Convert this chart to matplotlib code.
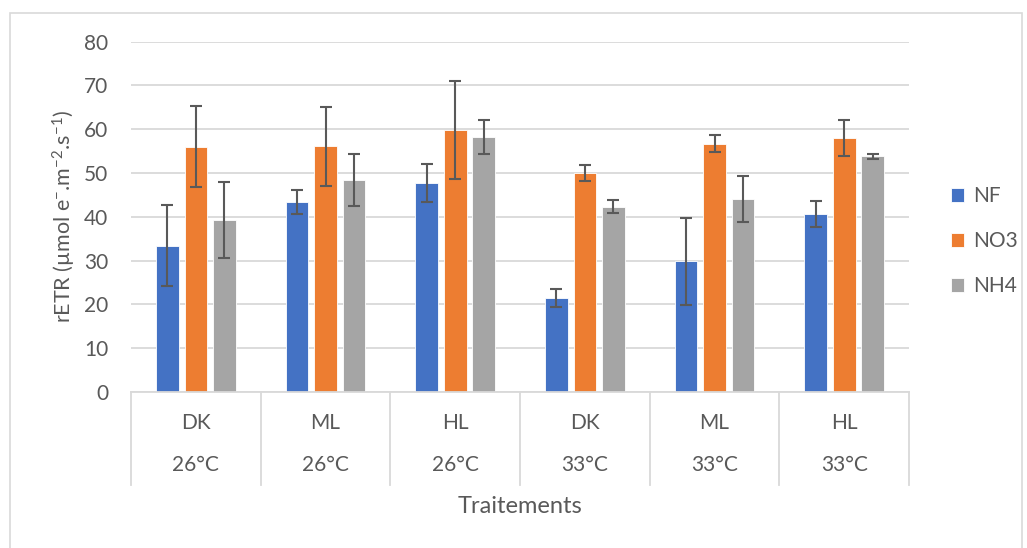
import numpy as np
import matplotlib.pyplot as plt
from matplotlib.patches import Rectangle

plt.rcParams['font.family'] = ['Lato', 'DejaVu Sans']
plt.rcParams['mathtext.fontset'] = 'custom'
plt.rcParams['mathtext.rm'] = 'Lato'
plt.rcParams['mathtext.it'] = 'Lato'

lumiere = ['DK', 'ML', 'HL', 'DK', 'ML', 'HL']
temp = ['26°C', '26°C', '26°C', '33°C', '33°C', '33°C']
series = ['NF', 'NO3', 'NH4']

NF = [33.4, 43.4, 47.7, 21.4, 29.8, 40.7]
NO3 = [56.0, 56.1, 59.8, 50.0, 56.7, 58.0]
NH4 = [39.3, 48.4, 58.2, 42.3, 44.1, 53.8]
NF_E = [9.2, 2.7, 4.4, 2.1, 9.9, 3.0]
NO3_E = [9.3, 9.0, 11.1, 1.9, 1.9, 4.2]
NH4_E = [8.7, 6.0, 3.8, 1.5, 5.3, 0.5]

colors = ['#4472C4', '#ED7D31', '#A5A5A5']
txt = '#595959'
grid = '#D9D9D9'
fs = 15

fig = plt.figure(figsize=(10.27, 5.48), dpi=100)
ax = fig.add_axes([0.1276, 0.2847, 0.7575, 0.6393])

x = np.arange(len(lumiere))
w = 0.175
off = 0.22
for i, (vals, errs) in enumerate([(NF, NF_E), (NO3, NO3_E), (NH4, NH4_E)]):
    ax.bar(x + (i - 1) * off, vals, width=w, color=colors[i], edgecolor='white',
           linewidth=0.6, label=series[i], zorder=2)
    ax.errorbar(x + (i - 1) * off, vals, yerr=errs, fmt='none', ecolor=txt,
                elinewidth=1.5, capsize=4.3, capthick=1.5, zorder=3)

ax.set_xlim(-0.5, 5.5)
ax.set_ylim(0, 80)
ax.set_yticks(np.arange(0, 81, 10))
ax.yaxis.grid(True, color=grid, linewidth=1.3, zorder=0)
ax.set_axisbelow(True)
ax.tick_params(axis='y', length=0, pad=16.5, labelsize=fs, labelcolor=txt)
ax.set_xticks([])
for s in ['top', 'right', 'left']:
    ax.spines[s].set_visible(False)
ax.spines['bottom'].set_color(grid)
ax.spines['bottom'].set_linewidth(1.3)

# category table below the axis
tr = ax.get_xaxis_transform()
for b in np.arange(-0.5, 6, 1):
    ax.plot([b, b], [0, -0.265], transform=tr, color=grid, lw=1.3, clip_on=False)
for i in range(len(lumiere)):
    ax.text(x[i], -0.0885, lumiere[i], transform=tr, ha='center', va='center',
            fontsize=fs, color=txt)
    ax.text(x[i], -0.208, temp[i], transform=tr, ha='center', va='center',
            fontsize=fs, color=txt)
ax.text(2.5, -0.328, 'Traitements', transform=tr, ha='center', va='center',
        fontsize=17, color=txt)

ax.set_ylabel(r'rETR (µmol e$^{-}$.m$^{-2}$.s$^{-1}$)', fontsize=15.5, color=txt,
              labelpad=4)

ax.legend(loc='center left', bbox_to_anchor=(1.03, 0.43), frameon=False,
          fontsize=fs, labelcolor=txt, handlelength=0.6, handleheight=0.6,
          handletextpad=0.45, labelspacing=1.2)

# chart border
fig.patches.append(Rectangle((10 / 1027, -0.1), 1012 / 1027, 1.1 - 13 / 548,
                             transform=fig.transFigure, fill=False,
                             edgecolor=grid, linewidth=1.2))

fig.savefig('out.png', dpi=100)
